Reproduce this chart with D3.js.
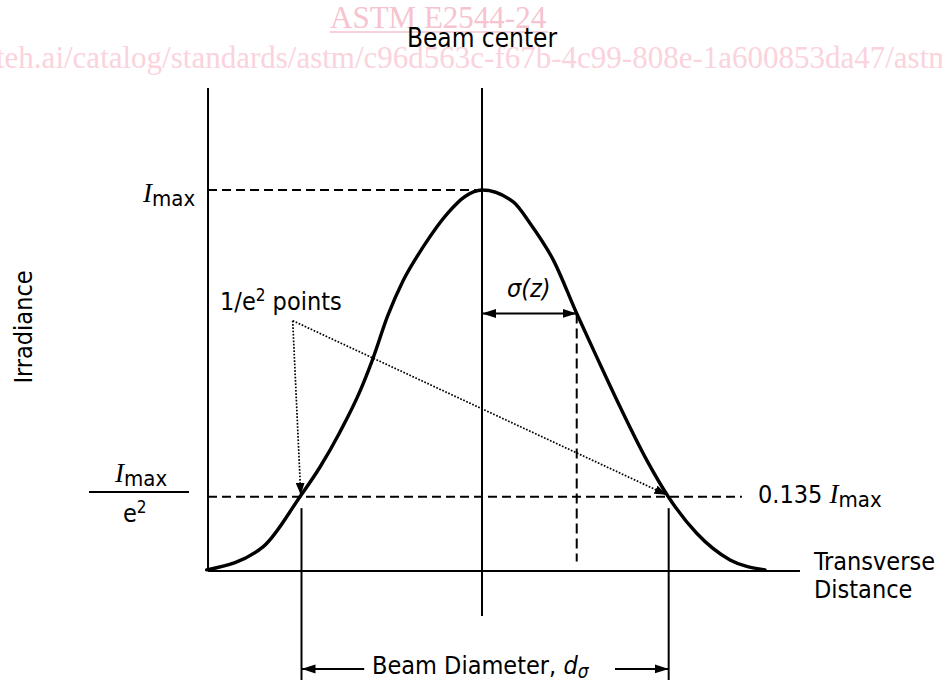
<!DOCTYPE html>
<html>
<head>
<meta charset="utf-8">
<script src="https://cdn.jsdelivr.net/npm/d3@7"></script>
<style>
  html, body { margin: 0; padding: 0; background: #fff; }
  svg { display: block; }
</style>
</head>
<body>
<script>
// ---- Data (x in units of sigma, y relative to Imax) ----
const curveX = [-2.898, -2.302, -1.916, -1.705, -1.495, -1.284, -1.158, -0.989, -0.832, -0.621, -0.358, -0.179, 0,
                0.329, 0.505, 0.751, 0.997, 1.207, 1.453, 1.734, 1.961, 2.260, 2.611, 2.979];
const curveY = [0.003, 0.064, 0.195, 0.273, 0.365, 0.472, 0.551, 0.672, 0.761, 0.850, 0.940, 0.983, 1.0,
                0.969, 0.913, 0.816, 0.676, 0.562, 0.431, 0.291, 0.195, 0.099, 0.029, 0.003];
const peakLevel = 1.0;          // Imax
const e2Level = 0.195;          // drawn 1/e^2 level (0.135 Imax)
const sigmaPoint = [0.997, 0.676];
const diameterPoints = [-1.90, 1.965];
const labels = {
  top: "Beam center",
  yTitle: "Irradiance",
  xTitle: ["Transverse", "Distance"],
  points: "points",
  diam: "Beam Diameter, ",
  level: "0.135 "
};
const watermark = ["ASTM E2544-24", "teh.ai/catalog/standards/astm/c96d563c-f67b-4c99-808e-1a600853da47/astm"];

// ---- Setup ----
const W = 942, H = 680;
const SANS = "'DejaVu Sans Condensed', 'DejaVu Sans', sans-serif";
const SERIF = "'Liberation Serif', 'DejaVu Serif', serif";
const x = d3.scaleLinear().domain([0, 1]).range([482, 577]);
const y = d3.scaleLinear().domain([0, 1]).range([571, 190]);

const svg = d3.select("body").append("svg").attr("width", W).attr("height", H);

// watermark
svg.append("text").attr("x", 330).attr("y", 28).attr("font-family", SERIF).attr("font-size", 31)
  .attr("fill", "#f6c3cf").text(watermark[0]);
svg.append("line").attr("x1", 330).attr("x2", 548).attr("y1", 32).attr("y2", 32)
  .attr("stroke", "#f6c3cf").attr("stroke-width", 1.5);
svg.append("text").attr("x", -4).attr("y", 68).attr("font-family", SERIF).attr("font-size", 31)
  .attr("fill", "#fad3dc").text(watermark[1]);

// markers
const defs = svg.append("defs");
defs.append("marker").attr("id", "arr").attr("markerUnits", "userSpaceOnUse")
  .attr("viewBox", "0 0 14 10").attr("markerWidth", 14).attr("markerHeight", 10)
  .attr("refX", 14).attr("refY", 5).attr("orient", "auto-start-reverse")
  .append("path").attr("d", "M0,0.5 L14,5 L0,9.5 Z").attr("fill", "#000");
defs.append("marker").attr("id", "arrS").attr("markerUnits", "userSpaceOnUse")
  .attr("viewBox", "0 0 12 9").attr("markerWidth", 12).attr("markerHeight", 9)
  .attr("refX", 12).attr("refY", 4.5).attr("orient", "auto")
  .append("path").attr("d", "M0,0 L12,4.5 L0,9 Z").attr("fill", "#000");

const g = svg.append("g");
const line = (x1, y1, x2, y2) => g.append("line").attr("x1", x1).attr("y1", y1).attr("x2", x2).attr("y2", y2)
  .attr("stroke", "#000").attr("stroke-width", 2);

// axes
const yAxisU = -2.884, xAxisEndU = 3.347, axisTopV = 1.268;
line(x(yAxisU), y(axisTopV), x(yAxisU), y(0));
line(x(yAxisU), y(0), x(xAxisEndU), y(0));
// beam center line
line(x(0), y(axisTopV), x(0), y(-0.118));

// dashed guides
line(x(yAxisU), y(peakLevel), x(0), y(peakLevel)).attr("stroke-dasharray", "9,5");
line(x(yAxisU), y(e2Level), x(2.736), y(e2Level)).attr("stroke-dasharray", "9,5");
line(x(sigmaPoint[0]), y(sigmaPoint[1]), x(sigmaPoint[0]), y(0.025)).attr("stroke-dasharray", "10,5");

// curve
g.append("path")
  .datum(curveX.map((d, i) => [d, curveY[i]]))
  .attr("fill", "none").attr("stroke", "#000").attr("stroke-width", 3.4)
  .attr("stroke-linejoin", "round").attr("stroke-linecap", "round")
  .attr("d", d3.line().x(d => x(d[0])).y(d => y(d[1])).curve(d3.curveMonotoneX));

// sigma arrow
line(x(0), y(sigmaPoint[1]), x(sigmaPoint[0]), y(sigmaPoint[1]))
  .attr("marker-start", "url(#arr)").attr("marker-end", "url(#arr)");

// diameter markers
diameterPoints.forEach(u => line(x(u), y(0.165), x(u), y(-0.286)));
line(x(-1.24), y(-0.257), x(diameterPoints[0]), y(-0.257)).attr("marker-end", "url(#arr)");
line(x(1.40), y(-0.257), x(diameterPoints[1]), y(-0.257)).attr("marker-end", "url(#arr)");

// dotted pointers
const ox = 292.7, oy = 320.7;
g.append("line").attr("x1", ox).attr("y1", oy).attr("x2", x(-1.908)).attr("y2", y(e2Level) - 2)
  .attr("stroke", "#000").attr("stroke-width", 1.7).attr("stroke-dasharray", "1.7,1.6").attr("marker-end", "url(#arrS)");
g.append("line").attr("x1", ox).attr("y1", oy).attr("x2", x(1.942)).attr("y2", y(e2Level) - 2)
  .attr("stroke", "#000").attr("stroke-width", 1.7).attr("stroke-dasharray", "1.7,1.6").attr("marker-end", "url(#arrS)");

// ---- Text ----
const txt = (xx, yy, size) => g.append("text").attr("x", xx).attr("y", yy)
  .attr("font-family", SANS).attr("font-size", size).attr("fill", "#000");

txt(x(0), 47, 26).attr("text-anchor", "middle").text(labels.top);

// Imax label
const imax = (t) => {
  t.append("tspan").attr("font-family", SERIF).attr("font-style", "italic").attr("font-size", 27).text("I");
  t.append("tspan").attr("dy", 4).attr("font-size", 22).text("max");
};
imax(txt(143, 202, 25));

// fraction
imax(txt(115, 482, 25));
line(89, 492, 189, 492);
const e2 = txt(123, 522, 25);
e2.append("tspan").text("e");
e2.append("tspan").attr("dy", -9).attr("font-size", 17).text("2");

// 1/e^2 points
const pts = txt(220, 310, 25);
pts.append("tspan").text("1/e");
pts.append("tspan").attr("dy", -9).attr("font-size", 17).text("2");
pts.append("tspan").attr("dy", 9).text(" " + labels.points);

// sigma(z)
txt(507, 297, 25).attr("font-style", "italic").text("σ(z)");

// 0.135 Imax
const lv = txt(758, 503, 25);
lv.append("tspan").text(labels.level);
lv.append("tspan").attr("font-family", SERIF).attr("font-style", "italic").attr("font-size", 27).text("I");
lv.append("tspan").attr("dy", 4).attr("font-size", 22).text("max");

// x title
txt(814, 570, 25).text(labels.xTitle[0]);
txt(814, 598, 25).text(labels.xTitle[1]);

// y title
txt(0, 0, 25).attr("transform", "translate(32,327) rotate(-90)").attr("text-anchor", "middle").text(labels.yTitle);

// beam diameter
const bd = txt(372, 674, 25);
bd.append("tspan").text(labels.diam);
bd.append("tspan").attr("font-style", "italic").text("d");
bd.append("tspan").attr("font-style", "italic").attr("dy", 4).attr("font-size", 19).text("σ");
</script>
</body>
</html>
